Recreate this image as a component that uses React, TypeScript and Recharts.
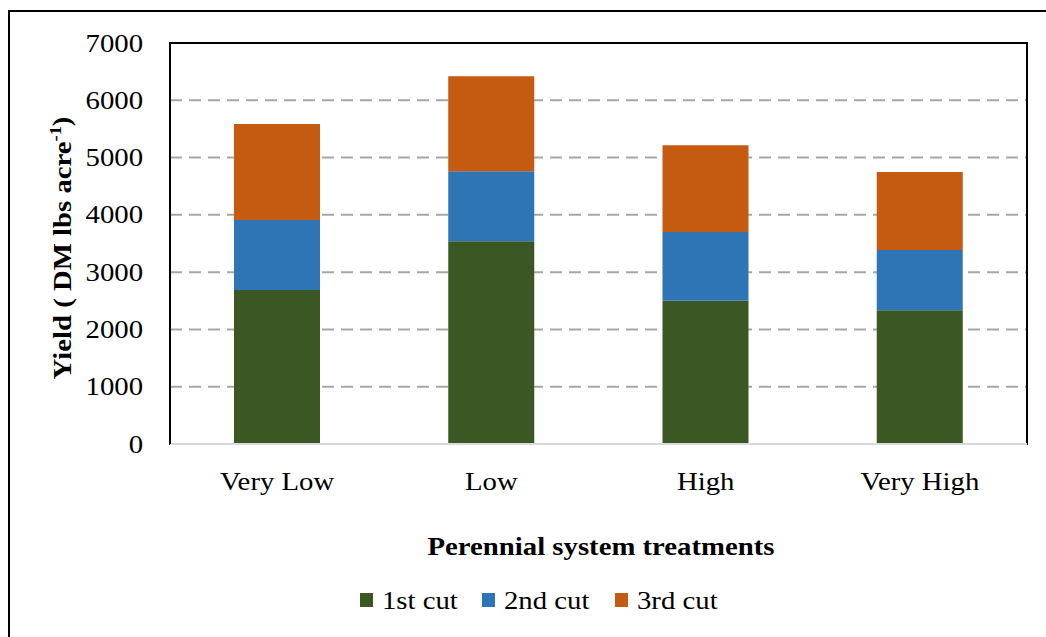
import {
  BarChart,
  Bar,
  XAxis,
  YAxis,
  CartesianGrid,
  Legend,
  ReferenceArea,
} from "recharts";

// values (DM lbs / acre)
const categories = ["Very Low", "Low", "High", "Very High"];
const firstCut = [2690, 3540, 2500, 2335];
const secondCut = [1220, 1220, 1200, 1050];
const thirdCut = [1675, 1660, 1515, 1365];
const yTicks = [0, 1000, 2000, 3000, 4000, 5000, 6000, 7000];

const seriesKeys = ["first", "second", "third"];
const seriesNames = ["1st cut", "2nd cut", "3rd cut"];
const seriesColors = ["#3B5723", "#2E75B6", "#C55A11"];

const data = categories.map((name, i) => ({
  name,
  first: firstCut[i],
  second: secondCut[i],
  third: thirdCut[i],
}));

const FONT = "'Liberation Serif', 'Times New Roman', serif";
const FS = 25;
const SX = 1.15;

function YTick({ x, y, payload }: any) {
  return (
    <text
      transform={`translate(${x},${y}) scale(${SX},1)`}
      textAnchor="end"
      dy="0.34em"
      fontFamily={FONT}
      fontSize={FS}
      fill="#000"
    >
      {payload.value}
    </text>
  );
}

function XTick({ x, y, payload }: any) {
  return (
    <text
      transform={`translate(${x},${y}) scale(${SX},1)`}
      textAnchor="middle"
      dy="0.34em"
      fontFamily={FONT}
      fontSize={FS}
      fill="#000"
    >
      {payload.value}
    </text>
  );
}

function YLabel() {
  return (
    <text
      transform={`translate(62,248) rotate(-90) scale(${SX},1)`}
      textAnchor="middle"
      dy="0.34em"
      fontFamily={FONT}
      fontSize={FS}
      fontWeight="bold"
      fill="#000"
    >
      Yield ( DM lbs acre
      <tspan fontSize={16} dy="-0.6em">-1</tspan>
      <tspan dy="0.38em">)</tspan>
    </text>
  );
}

function XLabel() {
  return (
    <text
      transform={`translate(601,546) scale(${SX},1)`}
      textAnchor="middle"
      dy="0.34em"
      fontFamily={FONT}
      fontSize={FS}
      fontWeight="bold"
      fill="#000"
    >
      Perennial system treatments
    </text>
  );
}

const legendOffsets = [0, 122, 255];

function LegendContent() {
  return (
    <svg width={400} height={30}>
      {seriesNames.map((n, i) => (
        <g key={n} transform={`translate(${legendOffsets[i]},0)`}>
          <rect x={0} y={8} width={13} height={14} fill={seriesColors[i]} />
          <text
            transform={`translate(22,15) scale(${SX},1)`}
            dy="0.34em"
            fontFamily={FONT}
            fontSize={FS}
            fill="#000"
          >
            {n}
          </text>
        </g>
      ))}
    </svg>
  );
}

export default function App() {
  return (
    <div
      style={{
        position: "absolute",
        left: 0,
        top: 0,
        width: 1046,
        height: 637,
        overflow: "hidden",
        background: "#fff",
      }}
    >
      <div
        style={{
          position: "absolute",
          left: 8,
          top: 10,
          width: 1100,
          height: 700,
          border: "2px solid #000",
        }}
      />
      <div style={{ position: "absolute", left: 0, top: 0 }}>
        <BarChart
          width={1046}
          height={637}
          data={data}
          margin={{ top: 43, right: 19, left: 0, bottom: 0 }}
        >
          <CartesianGrid
            vertical={false}
            stroke="#A6A6A6"
            strokeWidth={2}
            strokeDasharray="12 7"
          />
          {/* plot frame */}
          <ReferenceArea
            y1={0}
            y2={7000}
            fill="none"
            stroke="#000"
            strokeWidth={2}
          />
          <XAxis
            dataKey="name"
            height={193}
            axisLine={{ stroke: "#D9D9D9", strokeWidth: 2 }}
            tickLine={false}
            tickSize={0}
            tickMargin={37}
            tick={<XTick />}
            label={<XLabel />}
          />
          <YAxis
            width={170}
            domain={[0, 7000]}
            ticks={yTicks}
            axisLine={{ stroke: "#000", strokeWidth: 2 }}
            tickLine={false}
            tickSize={0}
            tickMargin={27}
            tick={<YTick />}
            label={<YLabel />}
          />
          <Legend
            verticalAlign="middle"
            align="center"
            content={<LegendContent />}
            wrapperStyle={{ position: "absolute", top: 585, left: 360, width: 400 }}
          />
          {seriesKeys.map((k, i) => (
            <Bar
              key={k}
              dataKey={k}
              name={seriesNames[i]}
              stackId="a"
              fill={seriesColors[i]}
              barSize={86}
              isAnimationActive={false}
            />
          ))}
        </BarChart>
      </div>
    </div>
  );
}
